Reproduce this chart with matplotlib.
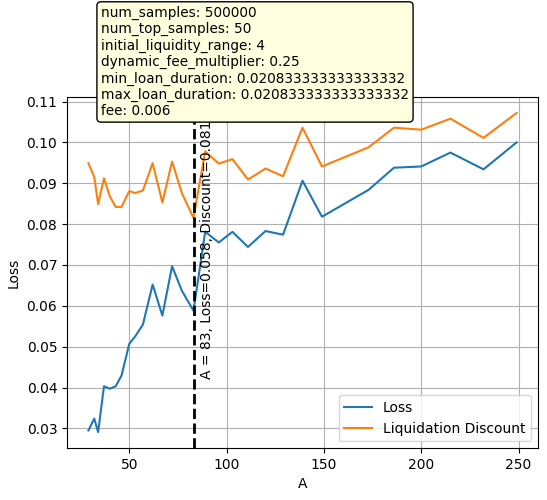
import matplotlib
matplotlib.use('Agg')
from matplotlib import pyplot as plt

# Values.
a_values: list[int] = [29, 32, 34, 37, 40, 43, 46, 50, 53, 57, 62, 67, 72, 77, 83,
                       89, 96, 103, 111, 120, 129, 139, 149, 173, 186, 200, 215, 232, 249]
loss: list[float] = [0.0295, 0.0324, 0.0291, 0.0403, 0.0397, 0.0403, 0.0429, 0.0507, 0.0525,
                     0.0554, 0.0652, 0.0576, 0.0697, 0.0637, 0.0588,
                     0.0781, 0.0755, 0.0781, 0.0744, 0.0783, 0.0774, 0.0906, 0.0818,
                     0.0884, 0.0938, 0.0941, 0.0975, 0.0934, 0.1000]
discount: list[float] = [0.0949, 0.0915, 0.0849, 0.0912, 0.0868, 0.0842, 0.0842, 0.0881, 0.0876,
                         0.0882, 0.0949, 0.0853, 0.0953, 0.0876, 0.0815,
                         0.0978, 0.0948, 0.0959, 0.0909, 0.0936, 0.0917, 0.1036, 0.0941,
                         0.0988, 0.1036, 0.1031, 0.1058, 0.1011, 0.1072]

best_a: int = 83
best_loss: float = 0.058
best_discount: float = 0.081

params: dict = {
    'num_samples': 500000,
    'num_top_samples': 50,
    'initial_liquidity_range': 4,
    'dynamic_fee_multiplier': 0.25,
    'min_loan_duration': 0.020833333333333332,
    'max_loan_duration': 0.020833333333333332,
    'fee': 0.006,
}

fig = plt.figure(figsize=(5.47, 5.0), dpi=100)
ax = fig.add_axes([67 / 547, 52 / 500, 471 / 547, 351 / 500])

ax.plot(a_values, loss, label='Loss')
ax.plot(a_values, discount, label='Liquidation Discount')
ax.axvline(best_a, color='black', linestyle='--', linewidth=2)
ax.text(best_a + 3.5, 0.0429, f'A = {best_a}, Loss={best_loss}, Discount={best_discount}',
        rotation=90, fontsize=10)
ax.set_xlabel('A')
ax.set_ylabel('Loss')
ax.grid(True)
ax.legend(loc='lower right')

# Parameter box above the axes.
param_text: str = '\n'.join(f'{k}: {v}' for k, v in params.items())
fig.text(101 / 547, 1 - 6 / 500, param_text, va='top', ha='left', fontsize=9.8,
         bbox=dict(boxstyle='round', facecolor='lightyellow', edgecolor='black'))

fig.savefig('out.png', dpi=100)
